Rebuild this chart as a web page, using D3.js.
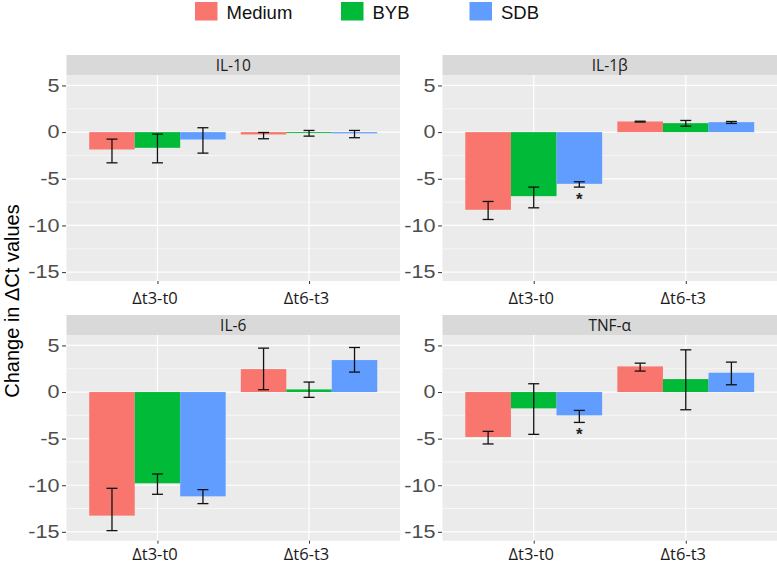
<!DOCTYPE html>
<html>
<head>
<meta charset="utf-8">
<script src="https://cdn.jsdelivr.net/npm/d3@7"></script>
<style>
  html, body { margin: 0; padding: 0; background: #fff; }
  svg { display: block; }
</style>
</head>
<body>
<svg id="chart" width="777" height="565"></svg>
<script>
// ---------------- data ----------------
const panels = ["IL-10", "IL-1β", "IL-6", "TNF-α"];
const timepoints = ["Δt3-t0", "Δt6-t3"];
const groups = ["Medium", "BYB", "SDB"];
const yTicks = [5, 0, -5, -10, -15];

// order: IL-10 (t3-t0, t6-t3), IL-1β (..), IL-6 (..), TNF-α (..)
const meanMedium = [-1.86, -0.25, -8.32, 1.14, -13.26, 2.46, -4.82, 2.75];
const lowMedium  = [-3.29, -0.71, -9.36, 1.08, -14.87, 0.25, -5.57, 2.25];
const highMedium = [-0.75, -0.04, -7.43, 1.17, -10.33, 4.71, -4.22, 3.10];

const meanBYB = [-1.68, -0.10, -6.86, 0.96, -9.79, 0.28, -1.75, 1.39];
const lowBYB  = [-3.29, -0.43, -8.11, 0.64, -10.97, -0.57, -4.54, -1.90];
const highBYB = [-0.21, 0.18, -5.89, 1.25, -8.79, 1.07, 0.89, 4.53];

const meanSDB = [-0.79, -0.13, -5.54, 1.07, -11.19, 3.43, -2.50, 2.07];
const lowSDB  = [-2.25, -0.60, -5.89, 0.93, -11.97, 2.14, -3.26, 0.78];
const highSDB = [0.47, 0.18, -5.32, 1.14, -10.47, 4.78, -1.97, 3.21];

const sigSDB = [false, false, true, false, false, false, true, false];

const colors = ["#F8766D", "#00BA38", "#619CFF"];

// ---------------- build ----------------
const means = [meanMedium, meanBYB, meanSDB];
const lows = [lowMedium, lowBYB, lowSDB];
const highs = [highMedium, highBYB, highSDB];
const sigs = [null, null, sigSDB];

const svg = d3.select("#chart");

const layout = [
  {x0: 66.5, x1: 400, y0: 75, y1: 281, lab: 23},
  {x0: 442.5, x1: 777, y0: 75, y1: 281, lab: 23},
  {x0: 66.5, x1: 400, y0: 335, y1: 540.7, lab: 19.5},
  {x0: 442.5, x1: 777, y0: 335, y1: 540.7, lab: 19.5}
];
const stripH = 20;
const yDomain = [-15.95, 6.12];
const tickStretch = 1.2;

panels.forEach((name, pi) => {
  const L = layout[pi];
  const g = svg.append("g");

  // ggplot discrete expansion: centers at 0.6 and 1.6 of 2.2 units
  const unit = (L.x1 - L.x0) / 2.2;
  const xc = d3.scalePoint().domain(timepoints).range([L.x0 + 0.6 * unit, L.x1 - 0.6 * unit]);
  const xg = d3.scaleBand().domain(groups).range([-0.45 * unit, 0.45 * unit]).padding(0);
  const y = d3.scaleLinear().domain(yDomain).range([L.y1, L.y0]);

  // panel background
  g.append("rect").attr("x", L.x0).attr("y", L.y0).attr("width", L.x1 - L.x0).attr("height", L.y1 - L.y0).attr("fill", "#EBEBEB");

  // minor gridlines
  const minor = [2.5, -2.5, -7.5, -12.5];
  g.selectAll(".minor").data(minor).enter().append("line")
    .attr("x1", L.x0).attr("x2", L.x1).attr("y1", d => y(d)).attr("y2", d => y(d))
    .attr("stroke", "#fff").attr("stroke-width", 0.6);
  // major gridlines
  g.selectAll(".major").data(yTicks).enter().append("line")
    .attr("x1", L.x0).attr("x2", L.x1).attr("y1", d => y(d)).attr("y2", d => y(d))
    .attr("stroke", "#fff").attr("stroke-width", 1.2);
  g.selectAll(".vmajor").data(timepoints).enter().append("line")
    .attr("x1", d => xc(d)).attr("x2", d => xc(d)).attr("y1", L.y0).attr("y2", L.y1)
    .attr("stroke", "#fff").attr("stroke-width", 1.2);

  // strip
  g.append("rect").attr("x", L.x0).attr("y", L.y0 - stripH).attr("width", L.x1 - L.x0).attr("height", stripH).attr("fill", "#D9D9D9");
  g.append("text").attr("x", (L.x0 + L.x1) / 2).attr("y", L.y0 - stripH / 2 + 5.5)
    .attr("text-anchor", "middle").attr("font-family", "'Open Sans', sans-serif").attr("font-size", 15.5)
    .attr("fill", "#1A1A1A").text(name);

  // bars
  groups.forEach((grp, gi) => {
    timepoints.forEach((tp, ti) => {
      const idx = pi * 2 + ti;
      const v = means[gi][idx];
      const bx = xc(tp) + xg(grp);
      g.append("rect")
        .attr("x", bx).attr("width", xg.bandwidth())
        .attr("y", y(Math.max(0, v))).attr("height", Math.abs(y(v) - y(0)))
        .attr("fill", colors[gi]);
    });
  });

  // error bars
  const capW = 11;
  groups.forEach((grp, gi) => {
    timepoints.forEach((tp, ti) => {
      const idx = pi * 2 + ti;
      const cx = xc(tp) + xg(grp) + xg.bandwidth() / 2;
      const lo = lows[gi][idx], hi = highs[gi][idx];
      const eg = g.append("g").attr("stroke", "#111").attr("stroke-width", 1.3).attr("fill", "none");
      eg.append("line").attr("x1", cx).attr("x2", cx).attr("y1", y(lo)).attr("y2", y(hi));
      eg.append("line").attr("x1", cx - capW / 2).attr("x2", cx + capW / 2).attr("y1", y(lo)).attr("y2", y(lo));
      eg.append("line").attr("x1", cx - capW / 2).attr("x2", cx + capW / 2).attr("y1", y(hi)).attr("y2", y(hi));
      if (sigs[gi] && sigs[gi][idx]) {
        g.append("text").attr("x", cx).attr("y", y(lo) + 18)
          .attr("text-anchor", "middle").attr("font-family", "'Liberation Sans', Arial, sans-serif")
          .attr("font-size", 17).attr("font-weight", "bold").attr("fill", "#222").text("*");
      }
    });
  });

  // y axis
  const yAxis = d3.axisLeft(y).tickValues(yTicks).tickSize(4).tickPadding(2).tickFormat(d3.format("d"));
  const ya = g.append("g").attr("transform", `translate(${L.x0 - 0.5},0)`).call(yAxis);
  ya.select(".domain").remove();
  ya.selectAll(".tick line").attr("stroke", "#333").attr("stroke-width", 1);
  ya.selectAll(".tick text").attr("fill", "#4D4D4D").attr("font-size", 18)
    .attr("font-family", "'Liberation Sans', Arial, sans-serif")
    .attr("x", -6.5 / tickStretch)
    .attr("transform", `scale(${tickStretch},1)`)
    .text(d => d < 0 ? "-" + Math.abs(d) : String(d));

  // x axis
  const xAxis = d3.axisBottom(xc).tickSize(3).tickPadding(5);
  const xa = g.append("g").attr("transform", `translate(0,${L.y1})`).call(xAxis);
  xa.select(".domain").remove();
  xa.selectAll(".tick line").attr("stroke", "#333").attr("stroke-width", 1);
  xa.selectAll(".tick text").attr("fill", "#1A1A1A").attr("font-size", 16.5)
    .attr("font-family", "'Open Sans', sans-serif")
    .attr("y", L.lab).attr("dy", 0).attr("dx", -3);
});

// y axis title
svg.append("text")
  .attr("transform", "translate(18.5,301) rotate(-90)")
  .attr("text-anchor", "middle")
  .attr("font-family", "'Liberation Sans', Arial, sans-serif").attr("font-size", 20)
  .attr("fill", "#000").text("Change in ΔCt values");

// legend
const legendX = [195, 341, 469.5];
const leg = svg.append("g");
groups.forEach((grp, gi) => {
  leg.append("rect").attr("x", legendX[gi]).attr("y", 2).attr("width", 22.5).attr("height", 18.5).attr("fill", colors[gi]);
  leg.append("text").attr("x", legendX[gi] + 31.5).attr("y", 18.5)
    .attr("font-family", "'Liberation Sans', Arial, sans-serif").attr("font-size", 18.5)
    .attr("fill", "#111").text(grp);
});
</script>
</body>
</html>
